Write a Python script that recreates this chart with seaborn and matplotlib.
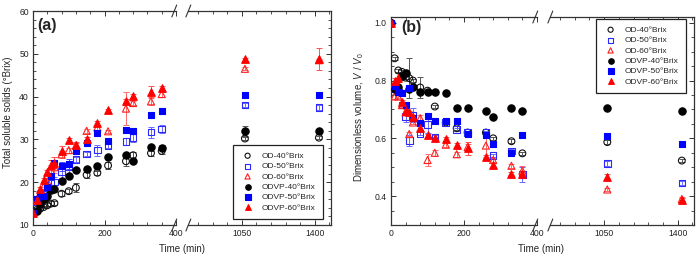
import numpy as np
import pandas as pd
import matplotlib
matplotlib.use("Agg")
import matplotlib.pyplot as plt
import seaborn as sns
from matplotlib.ticker import MultipleLocator, FixedLocator

sns.set_theme(style="ticks")
plt.rcParams["font.family"] = ["Liberation Sans", "DejaVu Sans"]
plt.rcParams["mathtext.fontset"] = "custom"
plt.rcParams["mathtext.rm"] = "Liberation Sans"
plt.rcParams["mathtext.it"] = "Liberation Sans:italic"

# ---------------- data ----------------
time = [0, 10, 20, 30, 40, 50, 60, 80, 100, 120, 150, 180, 210, 260, 280, 330, 360, 1065, 1420]

labels = ["OD-40°Brix", "OD-50°Brix", "OD-60°Brix", "ODVP-40°Brix", "ODVP-50°Brix", "ODVP-60°Brix"]

# (a) total soluble solids (°Brix)
tss_od40 = [12.9, 13.5, 13.8, 14.2, 14.6, 15.0, 15.1, 17.3, 17.9, 18.7, 21.7, 22.2, 23.9, 24.9, 26.3, 26.8, 27.3, 30.2, 30.4]
tss_od50 = [12.9, 15.5, 16.5, 17.5, 18.7, 19.8, 20.0, 22.5, 23.5, 25.3, 26.6, 27.5, 28.5, 29.5, 30.4, 31.7, 32.4, 38.0, 37.5]
tss_od60 = [12.9, 16.0, 17.2, 19.0, 20.2, 22.8, 23.5, 26.5, 27.5, 28.6, 32.0, 32.8, 31.9, 37.2, 38.5, 38.9, 40.6, 46.5, 48.5]
tss_odvp40 = [12.9, 13.2, 14.8, 16.0, 16.8, 18.2, 18.5, 20.3, 21.5, 22.9, 23.2, 23.9, 26.0, 26.3, 24.9, 28.3, 28.1, 32.0, 32.0]
tss_odvp50 = [12.9, 16.0, 16.8, 16.8, 18.9, 21.4, 24.5, 23.7, 24.3, 27.3, 29.1, 31.6, 29.6, 32.3, 31.9, 35.6, 36.7, 40.3, 40.3]
tss_odvp60 = [12.9, 15.9, 18.5, 20.6, 22.3, 24.1, 24.6, 27.4, 29.8, 28.8, 30.1, 33.9, 36.8, 38.9, 40.2, 41.1, 41.9, 48.7, 48.8]

tss_od40_err = [0.2, 0.3, 0.3, 0.3, 0.5, 0.5, 0.5, 0.6, 0.5, 1.0, 0.8, 0.5, 0.8, 1.2, 0.8, 0.6, 0.8, 0.4, 0.4]
tss_od50_err = [0.2, 0.3, 0.3, 0.5, 0.8, 1.0, 1.2, 1.5, 1.5, 0.5, 0.5, 1.3, 0.6, 0.8, 1.0, 1.3, 1.0, 0.4, 0.6]
tss_od60_err = [0.2, 0.3, 0.4, 0.5, 0.8, 1.3, 1.3, 0.8, 0.6, 0.6, 0.4, 0.5, 0.3, 3.9, 0.5, 0.8, 0.8, 0.4, 0.4]
tss_odvp40_err = [0.2, 0.2, 0.3, 0.3, 0.4, 0.4, 0.8, 0.4, 0.4, 0.4, 0.4, 0.4, 0.4, 0.4, 0.4, 0.5, 0.5, 1.2, 0.4]
tss_odvp50_err = [0.2, 0.5, 0.5, 0.5, 0.5, 0.6, 0.6, 1.0, 1.2, 0.5, 0.4, 0.4, 0.5, 0.5, 0.4, 0.4, 0.5, 0.4, 0.4]
tss_odvp60_err = [0.2, 0.3, 0.4, 0.4, 0.5, 1.0, 1.2, 1.1, 0.5, 0.5, 0.4, 0.5, 0.4, 0.5, 0.5, 1.3, 0.6, 0.4, 2.6]

# (b) dimensionless volume V/V0
vol_od40 = [1.0, 0.877, 0.835, 0.830, 0.810, 0.808, 0.800, 0.776, 0.765, 0.710, 0.655, 0.635, 0.620, 0.620, 0.600, 0.590, 0.548, 0.587, 0.523]
vol_od50 = [1.0, 0.770, 0.760, 0.715, 0.675, 0.593, 0.680, 0.617, 0.648, 0.605, 0.655, 0.630, 0.620, 0.620, 0.540, 0.556, 0.475, 0.513, 0.445]
vol_od60 = [1.0, 0.745, 0.745, 0.715, 0.690, 0.615, 0.655, 0.670, 0.525, 0.550, 0.578, 0.545, 0.570, 0.575, 0.525, 0.505, 0.488, 0.423, 0.390]
vol_odvp40 = [1.0, 0.770, 0.776, 0.815, 0.825, 0.770, 0.776, 0.762, 0.762, 0.760, 0.758, 0.704, 0.704, 0.696, 0.673, 0.704, 0.696, 0.704, 0.696]
vol_odvp50 = [1.0, 0.780, 0.760, 0.758, 0.715, 0.773, 0.669, 0.654, 0.677, 0.661, 0.661, 0.661, 0.614, 0.611, 0.580, 0.550, 0.611, 0.609, 0.579]
vol_odvp60 = [1.0, 0.800, 0.810, 0.727, 0.695, 0.690, 0.673, 0.637, 0.610, 0.600, 0.598, 0.577, 0.565, 0.537, 0.508, 0.478, 0.478, 0.467, 0.387]

vol_od40_err = [0, 0.006, 0.006, 0.006, 0.006, 0.070, 0.006, 0.035, 0.006, 0.006, 0.006, 0.006, 0.006, 0.006, 0.006, 0.006, 0.006, 0.006, 0.006]
vol_od50_err = [0, 0.006, 0.006, 0.010, 0.020, 0.020, 0.025, 0.006, 0.030, 0.006, 0.006, 0.006, 0.006, 0.006, 0.006, 0.006, 0.025, 0.008, 0.006]
vol_od60_err = [0, 0.008, 0.006, 0.006, 0.006, 0.006, 0.006, 0.010, 0.020, 0.010, 0.008, 0.008, 0.010, 0.040, 0.008, 0.006, 0.015, 0.006, 0.006]
vol_odvp40_err = [0, 0.006, 0.006, 0.006, 0.006, 0.006, 0.006, 0.006, 0.006, 0.006, 0.006, 0.006, 0.006, 0.006, 0.006, 0.006, 0.006, 0.006, 0.006]
vol_odvp50_err = [0, 0.008, 0.006, 0.006, 0.006, 0.006, 0.010, 0.006, 0.006, 0.006, 0.006, 0.006, 0.006, 0.006, 0.006, 0.006, 0.006, 0.008, 0.006]
vol_odvp60_err = [0, 0.008, 0.015, 0.006, 0.006, 0.006, 0.006, 0.008, 0.006, 0.006, 0.006, 0.006, 0.022, 0.006, 0.006, 0.006, 0.006, 0.008, 0.006]

tss = [tss_od40, tss_od50, tss_od60, tss_odvp40, tss_odvp50, tss_odvp60]
tss_err = [tss_od40_err, tss_od50_err, tss_od60_err, tss_odvp40_err, tss_odvp50_err, tss_odvp60_err]
vol = [vol_od40, vol_od50, vol_od60, vol_odvp40, vol_odvp50, vol_odvp60]
vol_err = [vol_od40_err, vol_od50_err, vol_od60_err, vol_odvp40_err, vol_odvp50_err, vol_odvp60_err]

# ---------------- styles ----------------
colors = ["#111111", "#2a2aff", "#ff2020", "#000000", "#0000ff", "#ff0000"]
err_colors = ["#555555", "#6a6aff", "#ff6a6a", "#555555", "#4a4aff", "#ff5050"]
markers = ["o", "s", "^", "o", "s", "^"]
filled = [False, False, False, True, True, True]
sizes = [24, 22, 26, 28, 24, 30]
spine_c = "#333333"

W, H = 696, 260
fig = plt.figure(figsize=(W / 100, H / 100), dpi=100)


def px_axes(x0, x1, y0, y1):
    return fig.add_axes([x0 / W, 1 - y1 / H, (x1 - x0) / W, (y1 - y0) / H])


def draw_series(ax, ys, es):
    for lab, y, e, c, ec, m, f, s in zip(labels, ys, es, colors, err_colors, markers, filled, sizes):
        ax.errorbar(time, y, yerr=e, fmt="none", ecolor=ec, elinewidth=0.7,
                    capsize=2.0, capthick=0.7, zorder=2)
        sns.scatterplot(x=time, y=y, ax=ax, marker=m, s=s, color=c,
                        facecolor=(c if f else "none"), edgecolor=c,
                        linewidth=0.8, label=lab, legend=False, zorder=3)


def style_pair(axl, axr, xl, xr, ylim, ymaj, ymin, wl, wr, hh):
    for ax in (axl, axr):
        ax.set_ylim(*ylim)
        ax.yaxis.set_major_locator(MultipleLocator(ymaj))
        ax.yaxis.set_minor_locator(MultipleLocator(ymin))
        for sp in ax.spines.values():
            sp.set_color(spine_c)
            sp.set_linewidth(0.9)
        ax.tick_params(which="both", direction="in", colors=spine_c, labelcolor="#222222",
                       labelsize=6.2, top=True, pad=3)
        ax.tick_params(which="major", length=3.5, width=0.7)
        ax.tick_params(which="minor", length=2, width=0.6)
        ax.set_xlabel("")
        ax.set_ylabel("")
    axl.set_xlim(*xl)
    axr.set_xlim(*xr)
    axl.xaxis.set_major_locator(FixedLocator([0, 200, 400]))
    axl.xaxis.set_minor_locator(MultipleLocator(40))
    axr.xaxis.set_major_locator(FixedLocator([1050, 1400]))
    axr.xaxis.set_minor_locator(MultipleLocator(70))
    axl.spines["right"].set_visible(False)
    axr.spines["left"].set_visible(False)
    axl.tick_params(axis="y", which="both", left=True, right=False)
    axr.tick_params(axis="y", which="both", left=False, right=True, labelleft=False, labelright=False)
    # break marks
    kw = dict(color=spine_c, lw=0.8, clip_on=False)
    dxl, dyl = 3.5 / wl, 6 / hh
    dxr = 3.5 / wr
    for yy in (0, 1):
        axl.plot([1 - 1.2 * dxl, 1 + 0.2 * dxl], [yy - dyl, yy + dyl], transform=axl.transAxes, **kw)
        axr.plot([-0.2 * dxr - dxr * 0.4, dxr * 0.8], [yy - dyl, yy + dyl], transform=axr.transAxes, **kw)


def add_legend(ax, x0, y0):
    h, l = ax.get_legend_handles_labels()
    leg = ax.legend(h, l, loc="upper left", bbox_to_anchor=(x0 / W, 1 - y0 / H),
                    bbox_transform=fig.transFigure, fontsize=6.0, frameon=True, fancybox=False,
                    edgecolor="#222222", framealpha=1, borderpad=0.85, labelspacing=0.3,
                    handletextpad=0.8, handlelength=1.8, borderaxespad=0, markerscale=0.75)
    leg.get_frame().set_linewidth(0.9)
    return leg


# ---------------- panel (a) ----------------
a_top, a_bot = 11, 225
axa_l = px_axes(33, 176, a_top, a_bot)
axa_r = px_axes(188, 331, a_top, a_bot)
for ax in (axa_l, axa_r):
    draw_series(ax, tss, tss_err)
style_pair(axa_l, axa_r, (0, 400), (792, 1478), (10, 60), 10, 2, 143, 143, a_bot - a_top)
axa_l.text(0.03, 0.93, "(a)", transform=axa_l.transAxes, fontsize=11.5, fontweight="bold",
           ha="left", va="center")
add_legend(axa_r, 233, 145)
fig.text(182 / W, 1 - 249 / H, "Time (min)", fontsize=7, ha="center", va="center")
fig.text(8 / W, 1 - 112 / H, "Total soluble solids (°Brix)", fontsize=7, rotation=90,
         ha="center", va="center")

# ---------------- panel (b) ----------------
b_top, b_bot = 17, 225
axb_l = px_axes(391, 537, b_top, b_bot)
axb_r = px_axes(550, 694, b_top, b_bot)
for ax in (axb_l, axb_r):
    draw_series(ax, vol, vol_err)
style_pair(axb_l, axb_r, (0, 400), (792, 1478), (0.3, 1.02), 0.2, 0.05, 146, 144, b_bot - b_top)
axb_l.yaxis.set_major_locator(FixedLocator([0.4, 0.6, 0.8, 1.0]))
axb_l.yaxis.set_major_formatter(matplotlib.ticker.FormatStrFormatter("%.1f"))
axb_r.yaxis.set_major_locator(FixedLocator([0.4, 0.6, 0.8, 1.0]))
axb_l.text(0.07, 0.95, "(b)", transform=axb_l.transAxes, fontsize=11.5, fontweight="bold",
           ha="left", va="center")
add_legend(axb_r, 596, 19)
fig.text(541 / W, 1 - 249 / H, "Time (min)", fontsize=7, ha="center", va="center")
fig.text(359 / W, 1 - 117 / H, "Dimensionless volume, $V$ / $V_0$", fontsize=7, rotation=90,
         ha="center", va="center")

fig.savefig("out.png", dpi=100)
